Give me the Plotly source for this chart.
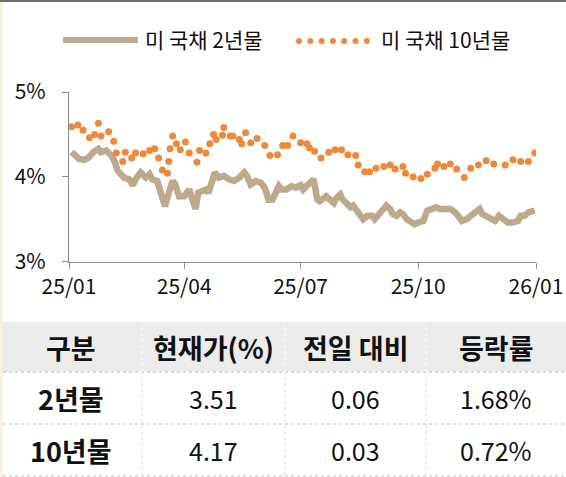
import plotly.graph_objects as go

# ---------------- data ----------------
two_year_dates = [
    "2025-01-03", "2025-01-05", "2025-01-09", "2025-01-13", "2025-01-16", "2025-01-20",
    "2025-01-24", "2025-01-26", "2025-01-30", "2025-02-03", "2025-02-06", "2025-02-08",
    "2025-02-13", "2025-02-17", "2025-02-20", "2025-02-22", "2025-02-26", "2025-03-02",
    "2025-03-05", "2025-03-07", "2025-03-11", "2025-03-15", "2025-03-17", "2025-03-20",
    "2025-03-23", "2025-03-25", "2025-03-28", "2025-04-01", "2025-04-02", "2025-04-05",
    "2025-04-07", "2025-04-10", "2025-04-12", "2025-04-15", "2025-04-18", "2025-04-20",
    "2025-04-23", "2025-04-25", "2025-04-28", "2025-05-02", "2025-05-06", "2025-05-10",
    "2025-05-14", "2025-05-18", "2025-05-20", "2025-05-23", "2025-05-27", "2025-05-31",
    "2025-06-03", "2025-06-06", "2025-06-09", "2025-06-11", "2025-06-14", "2025-06-16",
    "2025-06-20", "2025-06-24", "2025-06-27", "2025-07-01", "2025-07-03", "2025-07-07",
    "2025-07-11", "2025-07-12", "2025-07-14", "2025-07-16", "2025-07-19", "2025-07-21",
    "2025-07-24", "2025-07-27", "2025-07-29", "2025-08-01", "2025-08-03", "2025-08-06",
    "2025-08-09", "2025-08-11", "2025-08-14", "2025-08-16", "2025-08-19", "2025-08-22",
    "2025-08-26", "2025-08-28", "2025-08-31", "2025-09-04", "2025-09-06", "2025-09-09",
    "2025-09-11", "2025-09-14", "2025-09-17", "2025-09-19", "2025-09-22", "2025-09-26",
    "2025-09-28", "2025-10-01", "2025-10-05", "2025-10-06", "2025-10-08", "2025-10-12",
    "2025-10-15", "2025-10-18", "2025-10-22", "2025-10-26", "2025-10-28", "2025-10-31",
    "2025-11-04", "2025-11-08", "2025-11-11", "2025-11-15", "2025-11-18", "2025-11-20",
    "2025-11-23", "2025-11-26", "2025-11-30", "2025-12-03", "2025-12-06", "2025-12-10",
    "2025-12-14", "2025-12-18", "2025-12-20", "2025-12-23", "2025-12-26", "2025-12-30",
    "2025-12-31",
]
two_year_values = [
    4.29, 4.26, 4.21, 4.20, 4.22, 4.29,
    4.33, 4.29, 4.31, 4.25, 4.17, 4.07,
    3.99, 3.97, 3.90, 3.97, 4.05, 3.99,
    4.03, 3.97, 3.95, 3.75, 3.65, 3.81,
    3.95, 3.91, 3.77, 3.77, 3.79, 3.85,
    3.75, 3.62, 3.81, 3.83, 3.85, 3.81,
    3.95, 4.05, 3.99, 4.01, 3.97, 3.95,
    3.99, 4.05, 4.01, 3.91, 3.95, 3.93,
    3.87, 3.73, 3.73, 3.81, 3.89, 3.85,
    3.85, 3.89, 3.87, 3.90, 3.85, 3.91,
    3.97, 3.91, 3.73, 3.71, 3.75, 3.77,
    3.73, 3.69, 3.75, 3.79, 3.73, 3.68,
    3.64, 3.66, 3.60, 3.56, 3.50, 3.54,
    3.54, 3.50, 3.56, 3.62, 3.66, 3.62,
    3.56, 3.54, 3.58, 3.56, 3.50, 3.46,
    3.44, 3.46, 3.48, 3.52, 3.60, 3.62,
    3.64, 3.62, 3.62, 3.62, 3.60, 3.56,
    3.48, 3.50, 3.54, 3.58, 3.62, 3.56,
    3.53, 3.50, 3.48, 3.54, 3.50, 3.46,
    3.46, 3.48, 3.54, 3.54, 3.58, 3.60,
    3.60,
]

ten_year_dates = [
    "2025-01-03", "2025-01-08", "2025-01-12", "2025-01-17", "2025-01-21", "2025-01-24",
    "2025-01-26", "2025-02-01", "2025-02-05", "2025-02-07", "2025-02-12", "2025-02-14",
    "2025-02-19", "2025-02-22", "2025-02-28", "2025-03-05", "2025-03-09", "2025-03-12",
    "2025-03-15", "2025-03-19", "2025-03-20", "2025-03-21", "2025-03-23", "2025-03-26",
    "2025-03-29", "2025-04-02", "2025-04-05", "2025-04-11", "2025-04-13", "2025-04-18",
    "2025-04-21", "2025-04-24", "2025-04-26", "2025-05-01", "2025-05-02", "2025-05-07",
    "2025-05-09", "2025-05-14", "2025-05-16", "2025-05-19", "2025-05-23", "2025-05-28",
    "2025-06-03", "2025-06-07", "2025-06-13", "2025-06-17", "2025-06-21", "2025-06-25",
    "2025-07-01", "2025-07-06", "2025-07-08", "2025-07-12", "2025-07-17", "2025-07-23",
    "2025-07-28", "2025-08-02", "2025-08-07", "2025-08-13", "2025-08-15", "2025-08-20",
    "2025-08-24", "2025-08-29", "2025-09-04", "2025-09-09", "2025-09-13", "2025-09-19",
    "2025-09-21", "2025-09-27", "2025-10-03", "2025-10-08", "2025-10-14", "2025-10-16",
    "2025-10-21", "2025-10-26", "2025-10-31", "2025-11-06", "2025-11-11", "2025-11-17",
    "2025-11-23", "2025-11-29", "2025-12-08", "2025-12-14", "2025-12-20", "2025-12-26",
    "2025-12-31",
]
ten_year_values = [
    4.59, 4.61, 4.55, 4.46, 4.50, 4.63,
    4.48, 4.53, 4.42, 4.28, 4.18, 4.29,
    4.22, 4.28, 4.27, 4.31, 4.33, 4.22,
    4.08, 4.04, 4.18, 4.33, 4.48, 4.39,
    4.32, 4.41, 4.28, 4.17, 4.31, 4.28,
    4.39, 4.50, 4.44, 4.49, 4.58, 4.48,
    4.48, 4.44, 4.39, 4.52, 4.40, 4.45,
    4.37, 4.25, 4.26, 4.37, 4.37, 4.48,
    4.40, 4.39, 4.34, 4.30, 4.22, 4.29,
    4.32, 4.32, 4.26, 4.25, 4.14, 4.06,
    4.06, 4.10, 4.12, 4.14, 4.09, 4.12,
    4.04, 4.00, 3.98, 4.03, 4.10, 4.15,
    4.12, 4.15, 4.09, 3.99, 4.10, 4.14,
    4.19, 4.15, 4.14, 4.20, 4.18, 4.18,
    4.28,
]

series_names = ["미 국채 2년물", "미 국채 10년물"]
x_tick_vals = ["2025-01-01", "2025-04-01", "2025-07-01", "2025-10-01", "2026-01-01"]
x_tick_text = ["25/01", "25/04", "25/07", "25/10", "26/01"]
y_tick_vals = [3, 4, 5]
y_tick_text = ["3%", "4%", "5%"]

table_header = ["구분", "현재가(%)", "전일 대비", "등락률"]
table_labels = ["2년물", "10년물"]
table_current = ["3.51", "4.17"]
table_change = ["0.06", "0.03"]
table_rate = ["1.68%", "0.72%"]

# ---------------- styling ----------------
W, H = 566, 477
FONT = "Noto Sans CJK KR"
TAN = "#BBAA8B"
ORANGE = "#F0883A"
AXIS = "#8C8C8C"
TXT = "#111111"


def px(x):
    return x / W


def py(y):
    return 1 - y / H


fig = go.Figure()
fig.add_trace(go.Scatter(
    x=two_year_dates, y=two_year_values, mode="lines", name=series_names[0],
    line=dict(color=TAN, width=6.5), showlegend=False,
))
fig.add_trace(go.Scatter(
    x=ten_year_dates, y=ten_year_values, mode="markers", name=series_names[1],
    marker=dict(color=ORANGE, size=7, line=dict(width=0)), showlegend=False,
))

shapes = []
annotations = []

# top border and left strip
shapes.append(dict(type="rect", xref="paper", yref="paper", x0=0, x1=1, y0=py(2), y1=1,
                   fillcolor="#6E6E64", line=dict(width=0), layer="above"))
shapes.append(dict(type="rect", xref="paper", yref="paper", x0=0, x1=px(3), y0=0, y1=py(2),
                   fillcolor="#F7F2E3", line=dict(width=0), layer="below"))

# legend (manual)
shapes.append(dict(type="line", xref="paper", yref="paper", x0=px(63), x1=px(138),
                   y0=py(40), y1=py(40), line=dict(color=TAN, width=6)))
annotations.append(dict(text=series_names[0], x=px(143), y=py(39), xref="paper", yref="paper",
                        xanchor="left", yanchor="middle", showarrow=False,
                        font=dict(family=FONT, size=21, color=TXT)))
for i in range(7):
    cx = 299 + i * 11.3
    shapes.append(dict(type="circle", xref="paper", yref="paper",
                       x0=px(cx - 3), x1=px(cx + 3), y0=py(41 + 3), y1=py(41 - 3),
                       fillcolor=ORANGE, line=dict(width=0)))
annotations.append(dict(text=series_names[1], x=px(379), y=py(39), xref="paper", yref="paper",
                        xanchor="left", yanchor="middle", showarrow=False,
                        font=dict(family=FONT, size=21, color=TXT)))

# table
col_edges = [0, 142, 285, 426, 566]
col_centers = [(col_edges[i] + col_edges[i + 1]) / 2 for i in range(4)]
row_edges = [322, 372, 424, 476]
shapes.append(dict(type="rect", xref="paper", yref="paper", x0=px(3), x1=1,
                   y0=py(row_edges[1]), y1=py(row_edges[0]),
                   fillcolor="#ECECEC", line=dict(width=0), layer="below"))
for ry in row_edges[1:]:
    shapes.append(dict(type="line", xref="paper", yref="paper", x0=px(3), x1=1,
                       y0=py(ry), y1=py(ry), line=dict(color="#BDBDBD", width=1, dash="dot")))
for cx in col_edges[1:-1]:
    shapes.append(dict(type="line", xref="paper", yref="paper", x0=px(cx), x1=px(cx),
                       y0=py(row_edges[1]), y1=py(row_edges[0]),
                       line=dict(color="#FFFFFF", width=1, dash="dot")))
    shapes.append(dict(type="line", xref="paper", yref="paper", x0=px(cx), x1=px(cx),
                       y0=py(row_edges[-1]), y1=py(row_edges[1]),
                       line=dict(color="#DADADA", width=1, dash="dot")))

row_centers = [(row_edges[i] + row_edges[i + 1]) / 2 for i in range(3)]
for i, t in enumerate(table_header):
    annotations.append(dict(text="<b>" + t + "</b>", x=px(col_centers[i]), y=py(row_centers[0]),
                            xref="paper", yref="paper", xanchor="center", yanchor="middle",
                            showarrow=False, font=dict(family=FONT, size=27, color=TXT)))
for r in range(2):
    cells = [table_labels[r], table_current[r], table_change[r], table_rate[r]]
    for i, t in enumerate(cells):
        if i == 0:
            txt, size = "<b>" + t + "</b>", 27
        else:
            txt, size = t, 25
        annotations.append(dict(text=txt, x=px(col_centers[i]), y=py(row_centers[r + 1]),
                                xref="paper", yref="paper", xanchor="center", yanchor="middle",
                                showarrow=False, font=dict(family=FONT, size=size, color=TXT)))

fig.update_layout(
    template="none",
    width=W, height=H, autosize=False,
    margin=dict(l=0, r=0, t=0, b=0, pad=0, autoexpand=False),
    paper_bgcolor="white", plot_bgcolor="white",
    font=dict(family=FONT, color=TXT),
    shapes=shapes, annotations=annotations,
    xaxis=dict(
        domain=[px(69), px(536)], range=["2025-01-01", "2026-01-01"], automargin=False,
        tickvals=x_tick_vals, ticktext=x_tick_text, ticks="outside", ticklen=6,
        tickcolor=AXIS, tickwidth=1.2, showline=True, linecolor=AXIS, linewidth=1.2,
        showgrid=False, zeroline=False, tickfont=dict(family=FONT, size=21, color=TXT),
    ),
    yaxis=dict(
        domain=[py(261.5), py(92)], range=[3, 5], automargin=False,
        tickvals=y_tick_vals, ticktext=y_tick_text, ticks="outside", ticklen=6,
        ticklabelstandoff=12,
        tickcolor=AXIS, tickwidth=1.2, showline=True, linecolor=AXIS, linewidth=1.2,
        showgrid=False, zeroline=False, tickfont=dict(family=FONT, size=21, color=TXT),
    ),
)

fig.write_html("out.html", config={"displayModeBar": False},
               post_script="document.body.style.margin='0';")
